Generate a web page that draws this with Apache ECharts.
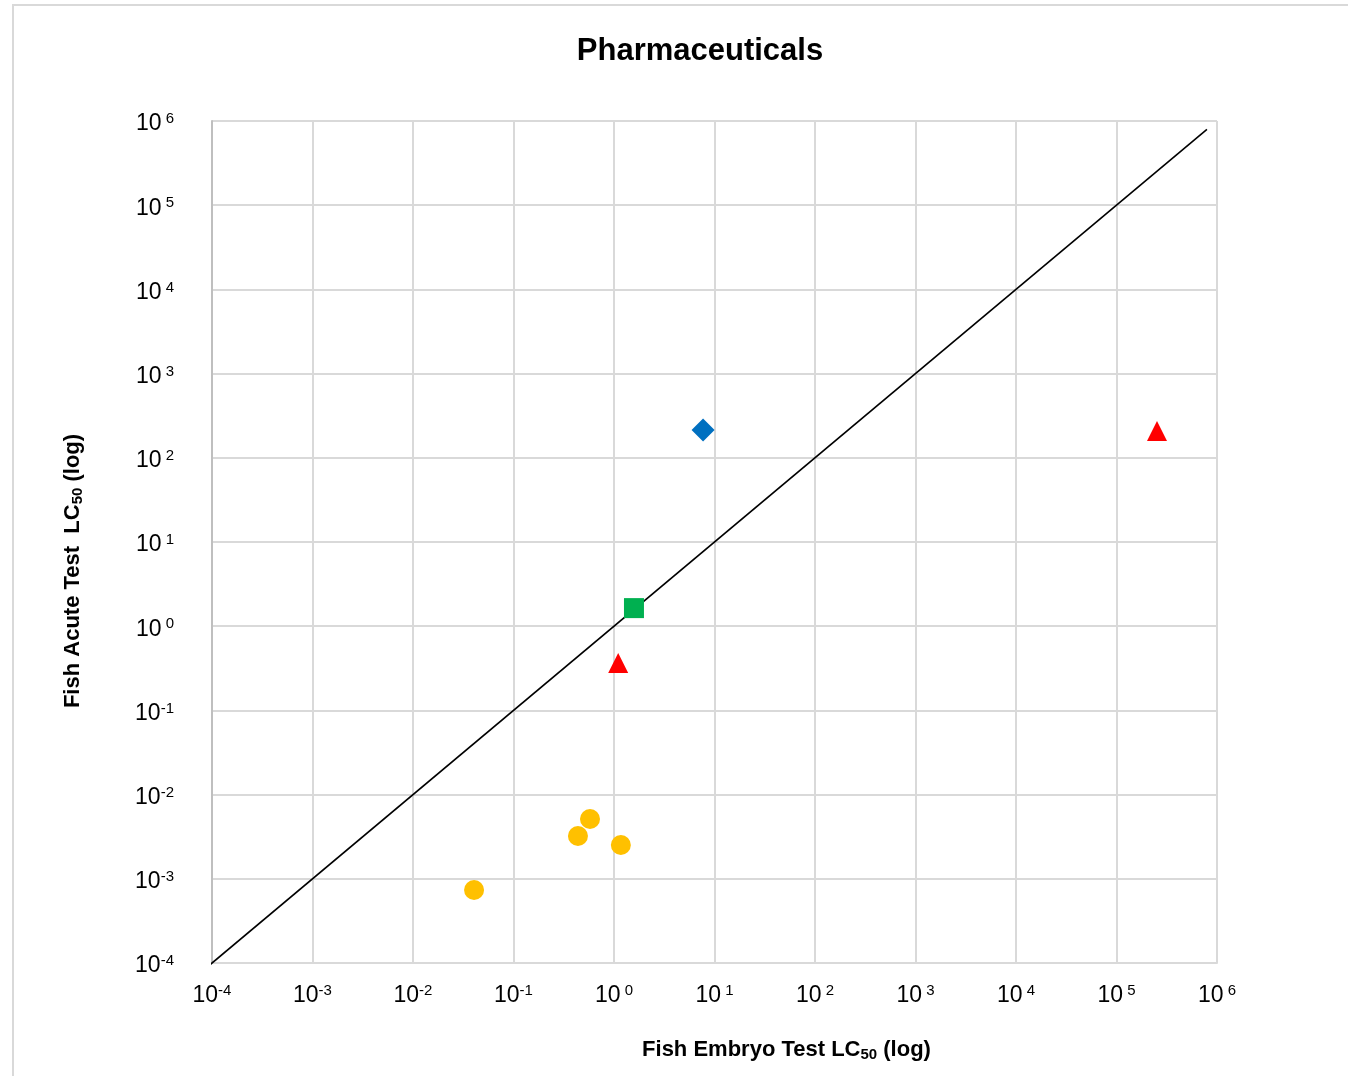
<!DOCTYPE html>
<html>
<head>
<meta charset="utf-8">
<script src="https://cdn.jsdelivr.net/npm/echarts@6/dist/echarts.min.js"></script>
<style>
html,body{margin:0;padding:0;background:#fff;}
#chart{width:1348px;height:1076px;}
</style>
</head>
<body>
<div id="chart"></div>
<script>
// ---- data ----
var tickExponents = [-4, -3, -2, -1, 0, 1, 2, 3, 4, 5, 6];

var blueX = [7.7];
var blueY = [214];

var greenX = [1.58];
var greenY = [1.64];

var redX = [1.1, 253000];
var redY = [0.366, 208];

var yellowX = [0.577, 0.438, 1.17, 0.0405];
var yellowY = [0.00513, 0.00322, 0.00252, 0.000736];

var lineX = [0.0000891, 794000];
var lineY = [0.0000891, 794000];

function zip(xs, ys) { return xs.map(function (x, i) { return [x, ys[i]]; }); }

var FONT = 'Liberation Sans';
var labelRich = {
  b: { fontFamily: FONT, fontSize: 23, color: '#000' },
  s: { fontFamily: FONT, fontSize: 15, color: '#000', verticalAlign: 'top', padding: [0, 0, 10, 0] }
};
function fmt(v) {
  var e = Math.round(Math.log10(v));
  if (tickExponents.indexOf(e) < 0) return '';
  return '{b|10}{s|' + (e >= 0 ? ' ' : '') + e + '}';
}

var chart = echarts.init(document.getElementById('chart'), null, { renderer: 'canvas' });
chart.setOption({
  backgroundColor: '#fff',
  animation: false,
  title: {
    text: 'Pharmaceuticals',
    left: 695, top: 31, textAlign: 'center',
    textStyle: { fontFamily: FONT, fontSize: 31, fontWeight: 'bold', color: '#000' }
  },
  graphic: [{
    type: 'rect', silent: true,
    shape: { x: 13, y: 5, width: 1400, height: 1200 },
    style: { fill: 'none', stroke: '#d9d9d9', lineWidth: 2 }
  }],
  grid: { left: 212, top: 121, right: 131, bottom: 113, containLabel: false },
  xAxis: {
    type: 'log', logBase: 10, min: 1e-4, max: 1e6, splitNumber: 10,
    name: 'Fish Embryo Test LC{sub|50} (log)',
    nameLocation: 'middle', nameGap: 74,
    nameTextStyle: {
      fontFamily: FONT, fontSize: 22, fontWeight: 'bold', color: '#000', padding: [0, 0, 0, 144],
      rich: { sub: { fontFamily: FONT, fontSize: 15, fontWeight: 'bold', color: '#000', verticalAlign: 'bottom', padding: [10, 0, 0, 0] } }
    },
    axisLine: { show: true, lineStyle: { color: '#d9d9d9', width: 2 } },
    axisTick: { show: false },
    splitLine: { show: true, lineStyle: { color: '#d9d9d9', width: 2 } },
    minorTick: { show: false }, minorSplitLine: { show: false },
    axisLabel: { formatter: fmt, rich: labelRich, margin: 20, showMinLabel: true, showMaxLabel: true }
  },
  yAxis: {
    type: 'log', logBase: 10, min: 1e-4, max: 1e6, splitNumber: 10,
    name: 'Fish Acute Test  LC{sub|50} (log)',
    nameLocation: 'middle', nameGap: 127, nameRotate: 90,
    nameTextStyle: {
      fontFamily: FONT, fontSize: 22, fontWeight: 'bold', color: '#000', padding: [0, 58, 0, 0],
      rich: { sub: { fontFamily: FONT, fontSize: 15, fontWeight: 'bold', color: '#000', verticalAlign: 'bottom', padding: [10, 0, 0, 0] } }
    },
    axisLine: { show: true, lineStyle: { color: '#bfbfbf', width: 2 } },
    axisTick: { show: false },
    splitLine: { show: true, lineStyle: { color: '#d9d9d9', width: 2 } },
    axisLabel: { formatter: fmt, rich: labelRich, margin: 38, padding: [6, 0, 0, 0], showMinLabel: true, showMaxLabel: true }
  },
  series: [
    {
      type: 'line', data: zip(lineX, lineY), symbol: 'none', clip: false, z: 1,
      lineStyle: { color: '#000', width: 1.6 }, silent: true
    },
    { type: 'scatter', data: zip(blueX, blueY), symbol: 'diamond', symbolSize: 23, z: 3, itemStyle: { color: '#0070C0', opacity: 1 } },
    { type: 'scatter', data: zip(greenX, greenY), symbol: 'rect', symbolSize: 20, z: 3, itemStyle: { color: '#00B050', opacity: 1 } },
    { type: 'scatter', data: zip(redX, redY), symbol: 'triangle', symbolSize: 20, z: 3, itemStyle: { color: '#FF0000', opacity: 1 } },
    { type: 'scatter', data: zip(yellowX, yellowY), symbol: 'circle', symbolSize: 20, z: 3, itemStyle: { color: '#FFC000', opacity: 1 } }
  ]
});
</script>
</body>
</html>
